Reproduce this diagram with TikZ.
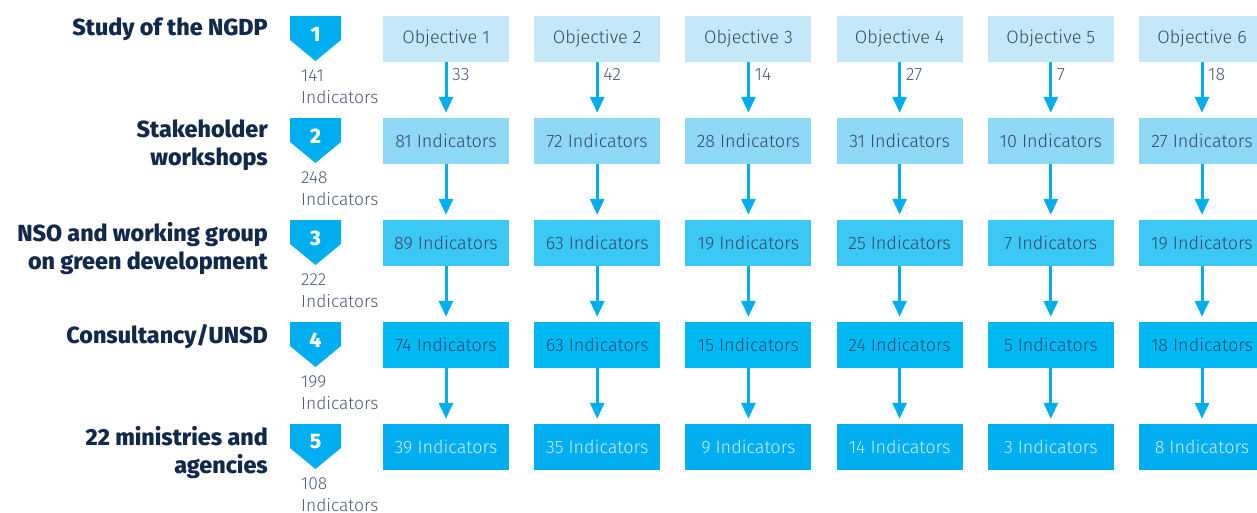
\documentclass[tikz,border=0pt]{standalone}
\usepackage{fontspec}
\setmainfont{Fira Sans}
\newfontfamily\lightf{Fira Sans Light}
\newfontfamily\heavyf{Fira Sans ExtraBold}
\usetikzlibrary{arrows.meta}
\definecolor{rowA}{HTML}{C5E8F8}
\definecolor{rowB}{HTML}{8ED8F6}
\definecolor{rowC}{HTML}{3CC8F4}
\definecolor{rowD}{HTML}{00B9F2}
\definecolor{rowE}{HTML}{00AEEF}
\definecolor{cyanarrow}{HTML}{00AEEF}
\definecolor{navy}{HTML}{13294B}
\definecolor{boxtxt}{HTML}{34486B}
\definecolor{boxtxtD}{HTML}{1E4D7A}
\definecolor{boxtxtE}{HTML}{C9EDFB}
\definecolor{greytxt}{HTML}{4A5A78}
\tikzset{
  cell/.style={minimum width=126pt, minimum height=46pt, inner sep=0pt,
    font=\lightf\fontsize{18}{20}\selectfont},
  flowarrow/.style={draw=cyanarrow, line width=3pt,
    -{Triangle[width=14pt,length=16pt]}, shorten >=5pt},
  stagelabel/.style={anchor=north east, align=right, inner sep=0pt, text=navy,
    font=\heavyf\fontsize{23.3}{28}\selectfont},
  countlabel/.style={anchor=north west, align=left, inner sep=0pt, text=greytxt,
    font=\lightf\fontsize{17.4}{22}\selectfont},
  arrowlabel/.style={anchor=west, inner sep=0pt, text=greytxt,
    font=\lightf\fontsize{18}{18}\selectfont},
  badge/.style={fill=cyanarrow},
  badgenum/.style={text=white, font=\heavyf\fontsize{21}{22}\selectfont, inner sep=0pt}
}
\begin{document}
\begin{tikzpicture}[x=1pt,y=-1pt]
\useasboundingbox (0,0) rectangle (1257,512);
\clip (0,0) rectangle (1257,512);

% stage labels
\node[stagelabel] (s1) at (268,18) {Study of the NGDP};
\node[stagelabel] (s2) at (268,120) {Stakeholder\\workshops};
\node[stagelabel] (s3) at (268,222) {NSO and working group\\on green development};
\node[stagelabel] (s4) at (268,324) {Consultancy/UNSD};
\node[stagelabel] (s5) at (268,426) {22 ministries and\\agencies};

% badges and counts
\foreach \r/\cnt in {1/141,2/248,3/222,4/199,5/108}{
  \pgfmathsetmacro{\ty}{16+102*(\r-1)}
  \fill[badge] (290,\ty) -- (341,\ty) -- (341,\ty+24) -- (315.5,\ty+45) -- (290,\ty+24) -- cycle;
  \node[badgenum] (n\r) at (315.5,\ty+18) {\r};
  \node[countlabel] (c\r) at (301,\ty+54) {\cnt\\Indicators};
}

% row 1
\foreach \c in {1,...,6}{
  \node[cell, fill=rowA, text=boxtxt] (b1-\c) at ({446+151.2*(\c-1)},39) {Objective \c};
}
% rows 2-5
\foreach \c/\v in {1/81,2/72,3/28,4/31,5/10,6/27}{
  \node[cell, fill=rowB, text=boxtxt] (b2-\c) at ({446+151.2*(\c-1)},141) {\v{} Indicators};
}
\foreach \c/\v in {1/89,2/63,3/19,4/25,5/7,6/19}{
  \node[cell, fill=rowC, text=boxtxt] (b3-\c) at ({446+151.2*(\c-1)},243) {\v{} Indicators};
}
\foreach \c/\v in {1/74,2/63,3/15,4/24,5/5,6/18}{
  \node[cell, fill=rowD, text=boxtxtD] (b4-\c) at ({446+151.2*(\c-1)},345) {\v{} Indicators};
}
\foreach \c/\v in {1/39,2/35,3/9,4/14,5/3,6/8}{
  \node[cell, fill=rowE, text=boxtxtE] (b5-\c) at ({446+151.2*(\c-1)},447) {\v{} Indicators};
}

% arrows
\foreach \c/\v in {1/33,2/42,3/14,4/27,5/7,6/18}{
  \draw[flowarrow] (b1-\c.south) -- (b2-\c.north);
  \node[arrowlabel] (a\c) at ([xshift=6pt,yshift=-12pt]b1-\c.south) {\v};
}
\foreach \r [evaluate=\r as \rn using int(\r+1)] in {2,3,4}{
  \foreach \c in {1,...,6}{
    \draw[flowarrow] (b\r-\c.south) -- (b\rn-\c.north);
  }
}
\end{tikzpicture}
\end{document}
